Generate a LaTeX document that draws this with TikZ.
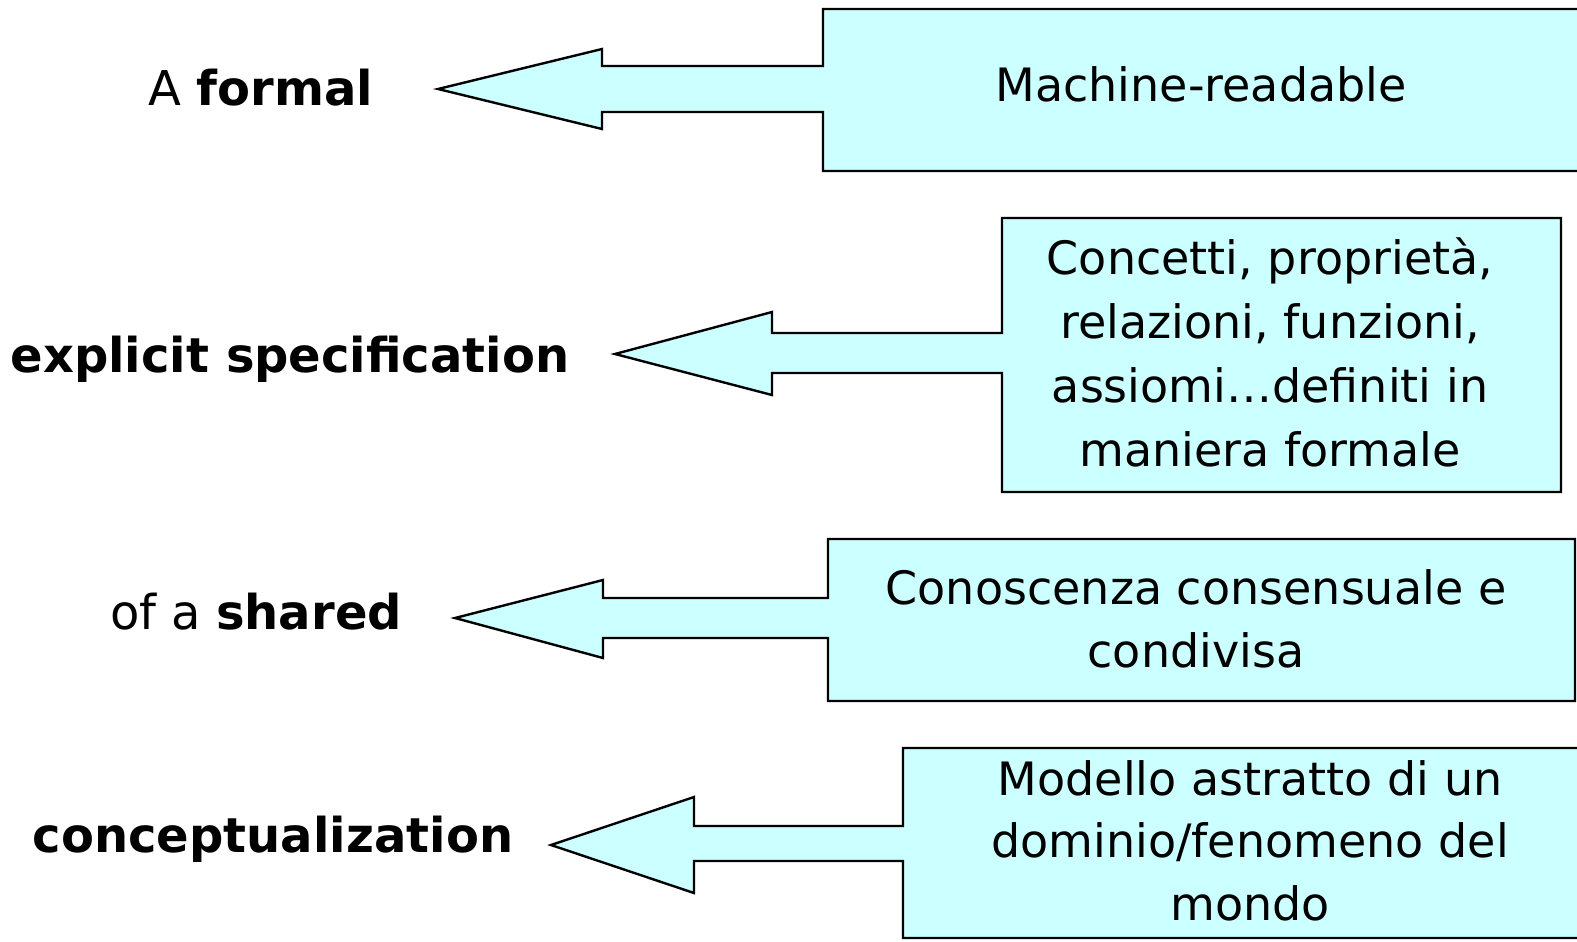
\documentclass[tikz,border=0pt]{standalone}
\usepackage{fontspec}
\setmainfont{DejaVu Sans}
\definecolor{callfill}{HTML}{CCFFFF}
\tikzset{
  callout/.style={draw=black, fill=callfill, line width=2.4bp, line join=miter},
  boxtext/.style={inner sep=0pt, anchor=base, font=\fontsize{46bp}{64.3bp}\selectfont},
  lefttext/.style={inner sep=0pt, anchor=base, font=\fontsize{48bp}{56bp}\selectfont},
}
\begin{document}
\begin{tikzpicture}[x=1bp,y=-1bp]
\useasboundingbox (0,0) rectangle (1577,941);
\fill[white] (0,0) rectangle (1577,941);
\clip (0,0) rectangle (1577,941);

% Callout 1
\coordinate (t1) at (438,89);
\draw[callout] (t1) -- (602,49) -- (602,66) -- (823,66) -- (823,9) -- (1600,9)
  -- (1600,171) -- (823,171) -- (823,112) -- (602,112) -- (602,129) -- cycle;
% Callout 2
\coordinate (t2) at (615,354);
\draw[callout] (t2) -- (772,312) -- (772,333) -- (1002,333) -- (1002,218) -- (1561,218)
  -- (1561,492) -- (1002,492) -- (1002,373) -- (772,373) -- (772,395) -- cycle;
% Callout 3
\coordinate (t3) at (455,618);
\draw[callout] (t3) -- (603,580) -- (603,598) -- (828,598) -- (828,539) -- (1575,539)
  -- (1575,701) -- (828,701) -- (828,638) -- (603,638) -- (603,658) -- cycle;
% Callout 4
\coordinate (t4) at (551,845);
\draw[callout] (t4) -- (694,797) -- (694,826) -- (903,826) -- (903,748) -- (1600,748)
  -- (1600,938) -- (903,938) -- (903,861) -- (694,861) -- (694,893) -- cycle;

% Box texts
\node[boxtext] (b1) at (1201,101) {Machine-readable};
\node[boxtext] (b2) at (1270,274) {\begin{tabular}[t]{@{}c@{}}Concetti, proprietà,\\relazioni, funzioni,\\assiomi…definiti in\\maniera formale\end{tabular}};
\node[boxtext, font=\fontsize{46bp}{63bp}\selectfont] (b3) at (1196,604) {\begin{tabular}[t]{@{}c@{}}Conoscenza consensuale e\\condivisa\end{tabular}};
\node[boxtext, font=\fontsize{46bp}{62.5bp}\selectfont] (b4) at (1250,795) {\begin{tabular}[t]{@{}c@{}}Modello astratto di un\\dominio/fenomeno del\\mondo\end{tabular}};

% Left labels
\node[lefttext] (l1) at (261,105) {A \textbf{formal}};
\node[lefttext] (l2) at (290,372) {\textbf{explicit specification}};
\node[lefttext] (l3) at (256,629) {of a \textbf{shared}};
\node[lefttext] (l4) at (273,852) {\textbf{conceptualization}};
\end{tikzpicture}
\end{document}
